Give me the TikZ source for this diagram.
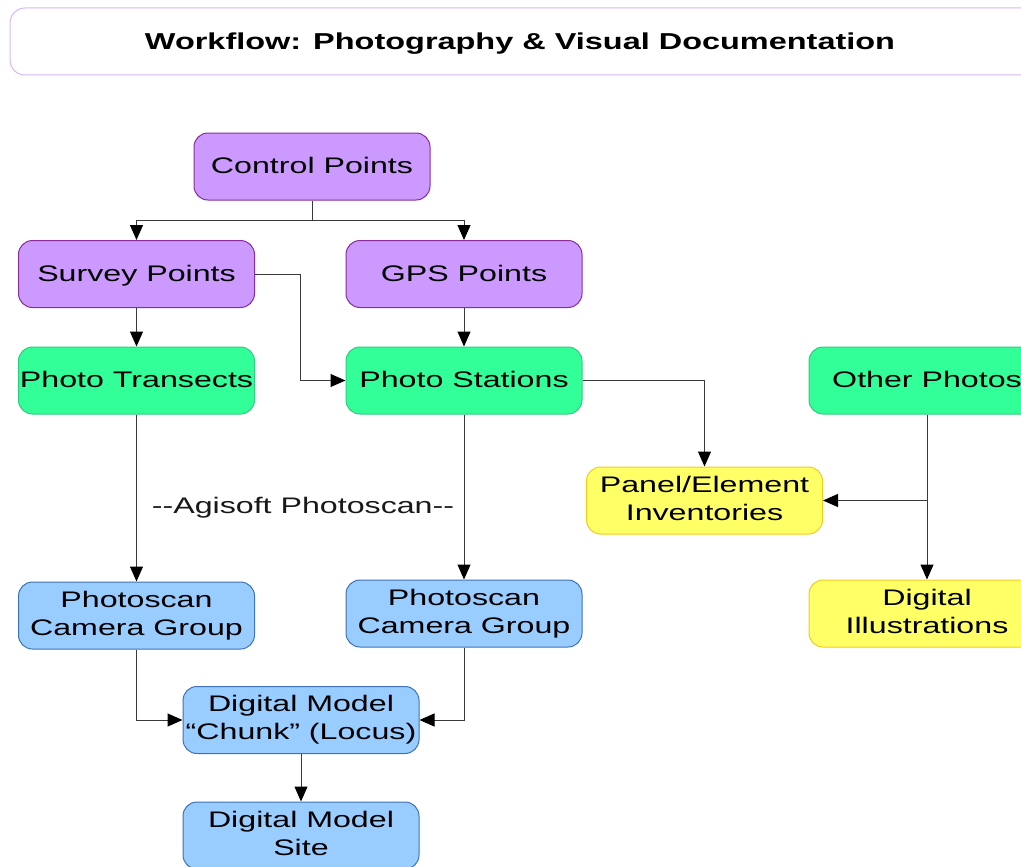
\documentclass[tikz,border=0pt]{standalone}
\usepackage{fontspec}
\usepackage{graphicx}
\setmainfont{Liberation Sans}
\usetikzlibrary{arrows.meta}
\definecolor{purfill}{HTML}{CC99FF}
\definecolor{purline}{HTML}{8A2C9A}
\definecolor{grnfill}{HTML}{33FF99}
\definecolor{grnline}{HTML}{2FCB80}
\definecolor{yelfill}{HTML}{FFFF66}
\definecolor{yelline}{HTML}{F2CC1E}
\definecolor{blufill}{HTML}{99CCFF}
\definecolor{bluline}{HTML}{3F72B8}
\definecolor{titleline}{HTML}{D8B8F4}
\definecolor{conn}{HTML}{3A3A3A}
\newcommand\stretchtxt[1]{\scalebox{1.43}[1]{#1}}
\newcommand\twolines[2]{\stretchtxt{\begin{tabular}{@{}c@{}}#1\\#2\end{tabular}}}
\begin{document}
\begin{tikzpicture}[x=1pt,y=-1pt,
  box/.style={rounded corners=14pt, line width=1pt, inner sep=0pt,
    minimum width=236pt, minimum height=67pt, align=center,
    font=\fontsize{22.5}{28}\selectfont, text=black},
  oneline/.style={text height=18pt, text depth=4pt},
  purbox/.style={box, oneline, fill=purfill, draw=purline},
  grnbox/.style={box, oneline, fill=grnfill, draw=grnline},
  yelbox/.style={box, fill=yelfill, draw=yelline},
  blubox/.style={box, fill=blufill, draw=bluline},
  link/.style={draw=conn, line width=1pt, -{Triangle[length=15pt,width=13pt,color=black,fill=black]}},
  plainlink/.style={draw=conn, line width=1pt}
]
\clip (0,0) rectangle (1021,867);
\useasboundingbox (0,0) rectangle (1021,867);
\fill[white] (0,0) rectangle (1021,867);

% title
\draw[titleline, line width=1pt, rounded corners=15pt, fill=white] (10,8) rectangle (1040,75);
\node[anchor=base, font=\fontsize{23}{28}\selectfont] (title) at (520,50)
  {\resizebox{750pt}{\height}{\bfseries Workflow: Photography \& Visual Documentation}};

% nodes
\node[purbox] (cp) at (312,166.5) {\stretchtxt{Control Points}};
\node[purbox] (sp) at (136.5,274) {\stretchtxt{Survey Points}};
\node[purbox] (gps) at (464,274) {\stretchtxt{GPS Points}};
\node[grnbox] (pt) at (136.5,380.5) {\stretchtxt{Photo Transects}};
\node[grnbox] (ps) at (464,380.5) {\stretchtxt{Photo Stations}};
\node[grnbox] (op) at (927,380.5) {\stretchtxt{Other Photos}};
\node[yelbox] (pe) at (704.5,500.5) {\twolines{Panel/Element}{Inventories}};
\node[yelbox] (di) at (927,613.5) {\twolines{Digital}{Illustrations}};
\node[blubox] (pcl) at (136.5,615.5) {\twolines{Photoscan}{Camera Group}};
\node[blubox] (pcr) at (464,613.5) {\twolines{Photoscan}{Camera Group}};
\node[blubox] (ch) at (301,720) {\twolines{Digital Model}{``Chunk'' (Locus)}};
\node[blubox] (site) at (301,835.5) {\twolines{Digital Model}{Site}};

% label
\node[anchor=base, inner sep=0pt, font=\fontsize{22.5}{28}\selectfont, text=black!90] (agi) at (303,513) {\stretchtxt{-{}-Agisoft Photoscan-{}-}};

% connectors
\coordinate (cpj) at (312,220);
\draw[plainlink] (cp.south) -- (cpj);
\draw[link] (cpj) -| (sp.north);
\draw[link] (cpj) -| (gps.north);
\draw[link] (sp.south) -- (pt.north);
\draw[link] (gps.south) -- (ps.north);
\coordinate (spj) at (300,274);
\draw[link] (sp.east) -- (spj) |- (ps.west);
\draw[link] (ps.east) -| (pe.north);
\draw[link] (op.south) -- (op.south |- di.north);
\coordinate (opj) at (op.south |- pe.east);
\draw[link] (opj) -- (pe.east);
\draw[link] (pt.south) -- (pcl.north);
\draw[link] (ps.south) -- (pcr.north);
\draw[link] (pcl.south) |- (ch.west);
\draw[link] (pcr.south) |- (ch.east);
\draw[link] (ch.south) -- (site.north);
\end{tikzpicture}
\end{document}
